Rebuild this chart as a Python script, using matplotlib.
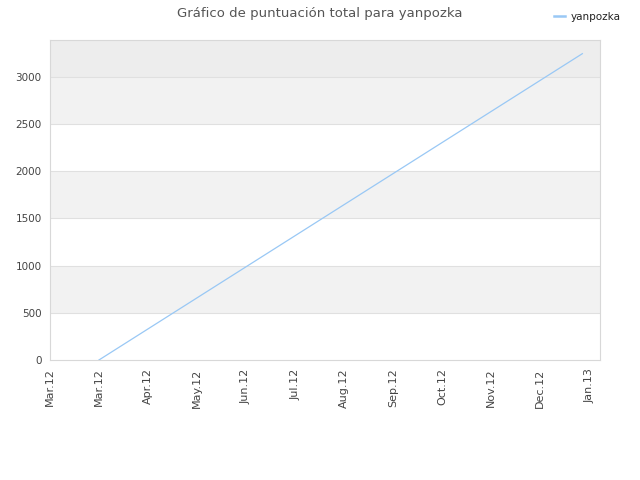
import numpy as np
import matplotlib
matplotlib.use("Agg")
import matplotlib.pyplot as plt

# data
tick_labels = ["Mar.12", "Mar.12", "Apr.12", "May.12", "Jun.12", "Jul.12",
               "Aug.12", "Sep.12", "Oct.12", "Nov.12", "Dec.12", "Jan.13"]
series_x = [1.0, 10.86]
series_y = [0, 3245]
y_ticks = [0, 500, 1000, 1500, 2000, 2500, 3000]

fig = plt.figure(figsize=(6.4, 4.8), dpi=100)
ax = fig.add_axes([0.078, 0.25, 0.8595, 0.6667])

ymax = 3390
ax.set_xlim(0, 11.22)
ax.set_ylim(0, ymax)

# alternating bands
bands = [(500, 1000, "#f2f2f2"), (1500, 2000, "#f2f2f2"),
         (2500, 3000, "#f2f2f2"), (3000, ymax, "#ededed")]
for lo, hi, c in bands:
    ax.axhspan(lo, hi, color=c, lw=0, zorder=0)
for yt in y_ticks[1:]:
    ax.axhline(yt, color="#e0e0e0", lw=0.8, zorder=1)

ax.plot(series_x, series_y, color="#99c8f5", lw=0.9, label="yanpozka", zorder=3)

ax.set_xticks(np.arange(len(tick_labels)))
ax.set_xticklabels(tick_labels, rotation=90, fontsize=8, color="#444444")
ax.set_yticks(y_ticks)
ax.set_yticklabels([str(v) for v in y_ticks], fontsize=7.5, color="#444444")
ax.tick_params(length=0, pad=6)
for s in ax.spines.values():
    s.set_color("#d8d8d8")
    s.set_linewidth(0.8)

fig.suptitle("Gráfico de puntuación total para yanpozka", x=0.5, y=0.985,
             fontsize=9.5, color="#555555")
leg = fig.legend(loc="upper right", bbox_to_anchor=(0.985, 0.995), frameon=False,
                 fontsize=7.5, handlelength=1.0, handletextpad=0.6)
for line in leg.get_lines():
    line.set_linewidth(1.8)
for t in leg.get_texts():
    t.set_color("#222222")

fig.savefig("out.png", dpi=100)
